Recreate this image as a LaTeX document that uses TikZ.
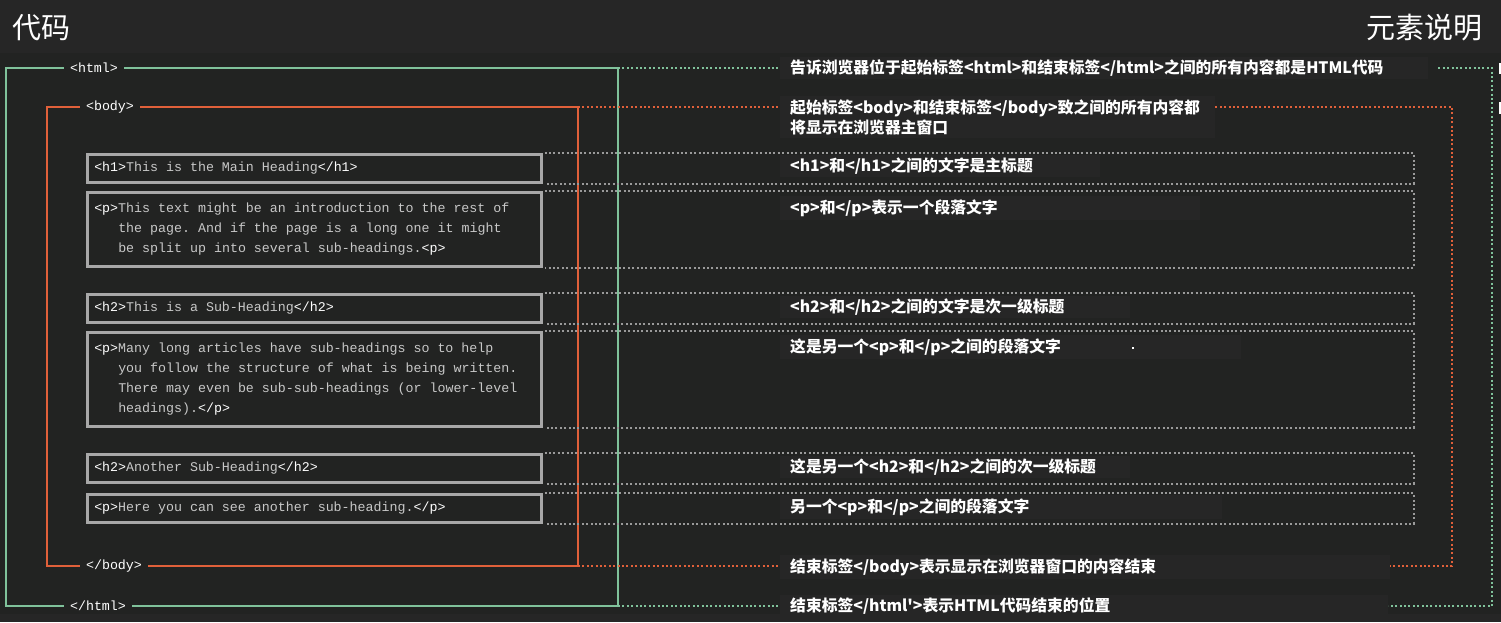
\documentclass[tikz,border=0pt]{standalone}
\usepackage{fontspec}
\setmonofont{Liberation Mono}
\newfontfamily\cjk{Noto Sans CJK SC}
\usetikzlibrary{positioning}
\definecolor{mauNen}{HTML}{222322}
\definecolor{mauDau}{HTML}{262626}
\definecolor{mauNenChu}{HTML}{262626}
\definecolor{mauHtml}{HTML}{80C29B}
\definecolor{mauBody}{HTML}{E0603A}
\definecolor{mauKhung}{HTML}{A8A8A8}
\definecolor{mauCham}{HTML}{9A9A9A}
\definecolor{mauChu}{HTML}{C8C8C8}
\newcommand{\tg}[1]{\textcolor{white}{#1}}
\newcommand{\lui}{\hspace*{24pt}}
\newcommand{\maso}{\ttfamily\fontsize{13.3}{20}\selectfont}

\begin{document}
\begin{tikzpicture}[x=1pt,y=-1pt,
	khung/.style={draw=mauKhung,line width=2.5pt,anchor=north west,minimum width=454pt,text width=440pt,inner xsep=7pt,align=left,text=mauChu,font=\maso,
		execute at begin node={\spaceskip=8pt\relax\xspaceskip=8pt\relax}},
	the/.style={fill=mauNen,inner xsep=6pt,inner ysep=2pt,text=white,font=\maso},
	ghichu/.style={fill=mauNenChu,anchor=west,inner xsep=10pt,inner ysep=3pt,align=left,text=white,font=\cjk\bfseries\fontsize{15.8}{20}\selectfont},
	tieude/.style={text=white,inner sep=0pt,font=\cjk\fontsize{29}{30}\selectfont},
	chamXam/.style={draw=mauCham,line width=2pt,dash pattern=on 2pt off 2.4pt},
	chamXanh/.style={draw=mauHtml,line width=2pt,dash pattern=on 2pt off 2.4pt},
	chamCam/.style={draw=mauBody,line width=2pt,dash pattern=on 2pt off 2.4pt}]
	\useasboundingbox (0,0) rectangle (1501,622);
	\fill[mauNen] (0,0) rectangle (1501,622);
	\fill[mauDau] (0,0) rectangle (1501,53);
	\fill[mauDau] (0,614) rectangle (1501,622);
	
	\node[tieude,anchor=west] (tdMa) at (12,28) {代码};
	\node[tieude,anchor=east] (tdMoTa) at (1483,28) {元素说明};
	
	% khung html va body
	\coordinate (htmlTL) at (6,68);
	\coordinate (htmlBR) at (618,606);
	\coordinate (htmlTR) at (618,68);
	\coordinate (bodyTL) at (47,107);
	\coordinate (bodyBR) at (578,566);
	\coordinate (bodyTR) at (578,107);
	\draw[mauHtml,line width=2.5pt] (htmlTL) rectangle (htmlBR);
	\draw[mauBody,line width=2.5pt] (bodyTL) rectangle (bodyBR);
	\node[the] (moHtml) at (94,68) {<html>};
	\node[the] (moBody) at (110,107) {<body>};
	\node[the] (dongBody) at (114,566) {</body>};
	\node[the] (dongHtml) at (98,606) {</html>};
	
	% cac khung ma
	\node[khung,minimum height=28pt] (h1) at (86,153) {\tg{<h1>}This is the Main Heading\tg{</h1>}};
	\node[khung,minimum height=74pt] (p1) at (86,191) {\tg{<p>}This text might be an introduction to the rest of\\
		\lui the page. And if the page is a long one it might\\
		\lui be split up into several sub-headings.\tg{<p>}};
	\node[khung,minimum height=28pt] (h2) at (86,293) {\tg{<h2>}This is a Sub-Heading\tg{</h2>}};
	\node[khung,minimum height=94pt] (p2) at (86,331) {\tg{<p>}Many long articles have sub-headings so to help\\
		\lui you follow the structure of what is being written.\\
		\lui There may even be sub-sub-headings (or lower-level\\
		\lui headings).\tg{</p>}};
	\node[khung,minimum height=28pt] (h2b) at (86,453) {\tg{<h2>}Another Sub-Heading\tg{</h2>}};
	\node[khung,minimum height=28pt] (p3) at (86,493) {\tg{<p>}Here you can see another sub-heading.\tg{</p>}};
	
	% duong cham xam
	\foreach \k in {h1,p1,h2,p2,h2b,p3}
		\draw[chamXam] ([xshift=2pt]\k.north east) -- ++(869,0) |- ([xshift=2pt]\k.south east);
	
	% ghi chu
	\node[ghichu,text width=628pt] (ghiHtml) at (780,68) {告诉浏览器位于起始标签<html>和结束标签</html>之间的所有内容都是HTML代码};
	\node[ghichu,text width=415pt] (ghiBody) at (780,117) {起始标签<body>和结束标签</body>致之间的所有内容都\\将显示在浏览器主窗口};
	\node[ghichu,text width=300pt] (ghiH1) at (780,166) {<h1>和</h1>之间的文字是主标题};
	\node[ghichu,text width=400pt] (ghiP1) at (780,208) {<p>和</p>表示一个段落文字};
	\node[ghichu,text width=330pt] (ghiH2) at (780,307) {<h2>和</h2>之间的文字是次一级标题};
	\node[ghichu,text width=441pt] (ghiP2) at (780,347) {这是另一个<p>和</p>之间的段落文字};
	\node[ghichu,text width=330pt] (ghiH2b) at (780,467) {这是另一个<h2>和</h2>之间的次一级标题};
	\node[ghichu,text width=422pt] (ghiP3) at (780,507) {另一个<p>和</p>之间的段落文字};
	\node[ghichu,text width=590pt] (ghiDongBody) at (780,567) {结束标签</body>表示显示在浏览器窗口的内容结束};
	\node[ghichu,text width=588pt] (ghiDongHtml) at (780,606) {结束标签</html'>表示HTML代码结束的位置};
	\fill[white] (1132,347) rectangle ++(2,2);
	
	% duong cham xanh va cam
	\draw[chamXanh] (htmlTR) -- (ghiHtml.west);
	\draw[chamXanh] ([xshift=10pt]ghiHtml.east) -| (1492,606) -- (ghiDongHtml.east);
	\draw[chamXanh] (htmlBR) -- (ghiDongHtml.west);
	\draw[chamCam] (bodyTR) -- (ghiBody.west |- bodyTR);
	\draw[chamCam] (ghiBody.east |- bodyTR) -| (1452,566) -- (ghiDongBody.east |- bodyBR);
	\draw[chamCam] (bodyBR) -- (ghiDongBody.west |- bodyBR);
	
	\fill[white] (1499,63) rectangle (1501,74);
	\fill[white] (1499,102) rectangle (1501,114);
\end{tikzpicture}
\end{document}
